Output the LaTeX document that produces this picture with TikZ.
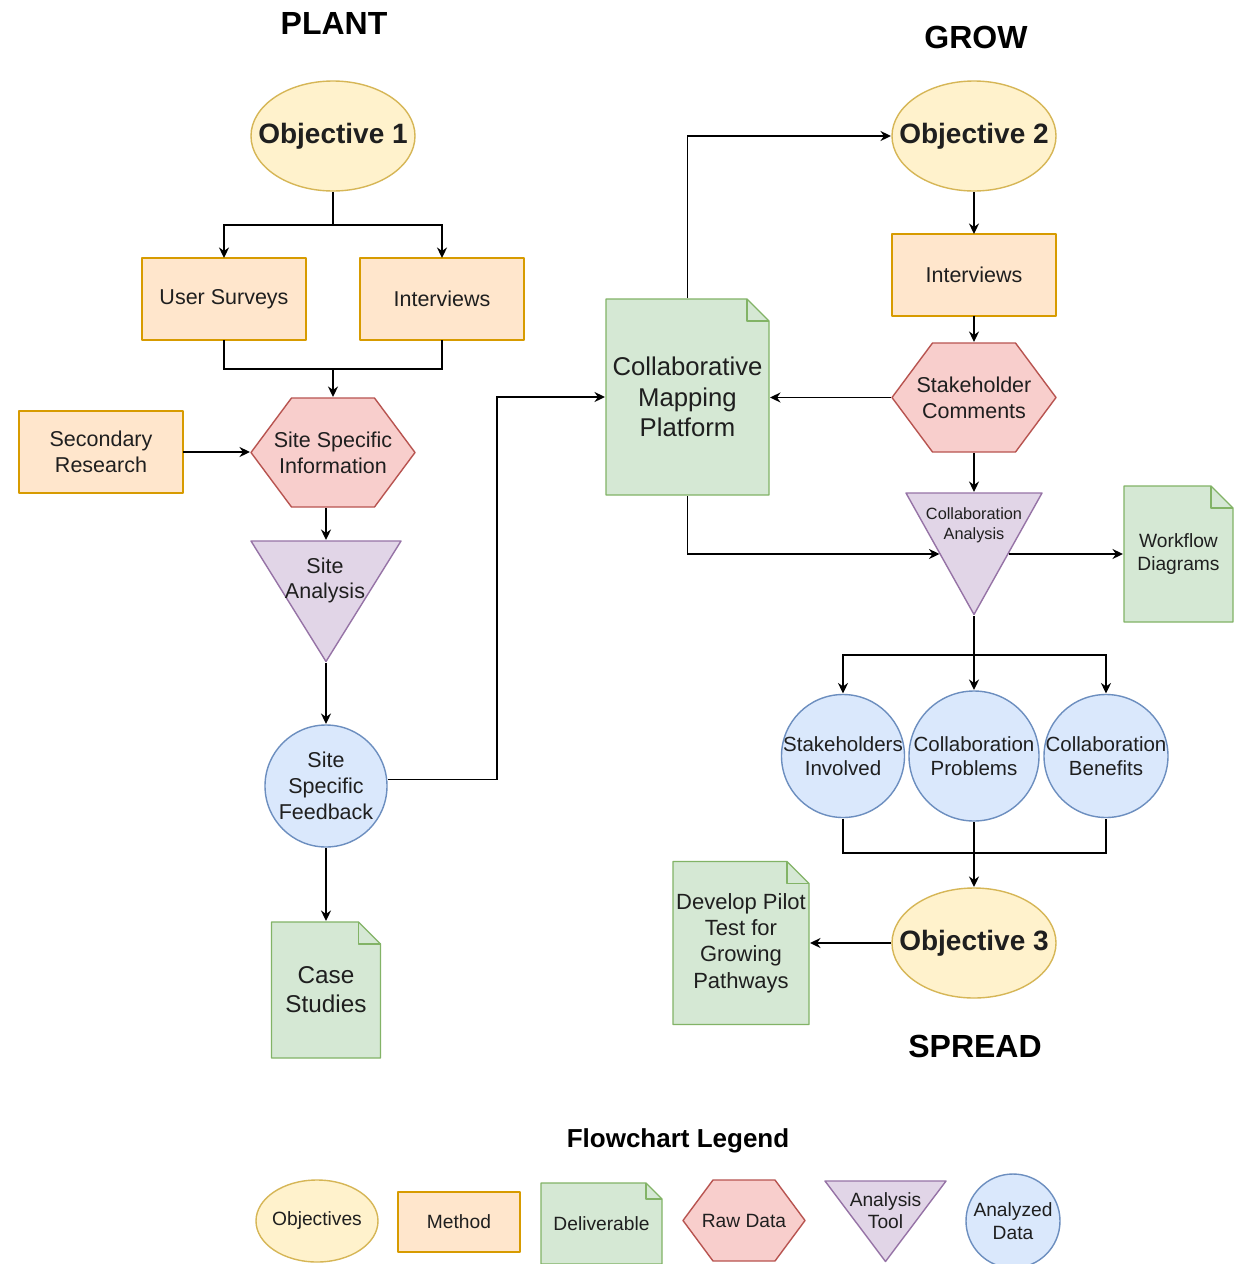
\documentclass[tikz,border=0pt]{standalone}
\usepackage{fontspec}
\setmainfont{Liberation Sans}
\usetikzlibrary{arrows.meta,calc,shapes.geometric}
\definecolor{ylF}{HTML}{FFF2CC}\definecolor{ylD}{HTML}{D6B656}
\definecolor{orF}{HTML}{FFE6CC}\definecolor{orD}{HTML}{D79B00}
\definecolor{grF}{HTML}{D5E8D4}\definecolor{grD}{HTML}{82B366}
\definecolor{rdF}{HTML}{F8CECC}\definecolor{rdD}{HTML}{B85450}
\definecolor{puF}{HTML}{E1D5E7}\definecolor{puD}{HTML}{9673A6}
\definecolor{blF}{HTML}{DAE8FC}\definecolor{blD}{HTML}{6C8EBF}
\definecolor{txtc}{HTML}{1F1F1F}
\tikzset{
  nbase/.style={align=center, inner sep=0pt, outer sep=0pt, text=txtc},
  bdr/.style={line width=1.4pt, line join=round},
  t21/.style={font=\fontsize{21.5}{25.8}\selectfont},
  t20/.style={font=\fontsize{20.5}{24.6}\selectfont},
  t19/.style={font=\fontsize{19.2}{22.5}\selectfont},
  t16/.style={font=\fontsize{16.3}{19.6}\selectfont},
  t22/.style={font=\fontsize{22}{26.2}\selectfont},
  t24/.style={font=\fontsize{24.3}{29}\selectfont},
  t26/.style={font=\fontsize{25.7}{30.3}\selectfont},
  objfont/.style={font=\fontsize{28}{33}\selectfont\bfseries},
  ttl/.style={nbase, font=\fontsize{32}{38}\selectfont\bfseries, text=black},
  ttlsmall/.style={nbase, font=\fontsize{26}{31}\selectfont\bfseries, text=black},
  methodbox/.style={nbase, t21, rectangle, draw=orD, fill=orF, bdr},
  ellnode/.style 2 args={nbase, rectangle, path picture={
    \filldraw[fill=#1, draw=#2, bdr]
      let \p1=($(path picture bounding box.north east)-(path picture bounding box.center)$) in
      (path picture bounding box.center) ellipse [x radius=\x1-1pt, y radius=\y1-1pt];}},
  objell/.style={objfont, ellnode={ylF}{ylD}},
  anell/.style={t20, ellnode={blF}{blD}},
  hexnode/.style={nbase, t21, rectangle, path picture={
    \filldraw[fill=rdF, draw=rdD, bdr]
      ($(path picture bounding box.west)+(1pt,0pt)$) --
      ($(path picture bounding box.north west)!0.25!(path picture bounding box.north east)+(0pt,-1pt)$) --
      ($(path picture bounding box.north west)!0.75!(path picture bounding box.north east)+(0pt,-1pt)$) --
      ($(path picture bounding box.east)+(-1pt,0pt)$) --
      ($(path picture bounding box.south west)!0.75!(path picture bounding box.south east)+(0pt,1pt)$) --
      ($(path picture bounding box.south west)!0.25!(path picture bounding box.south east)+(0pt,1pt)$) -- cycle;}},
  trinode/.style={nbase, rectangle, path picture={
    \filldraw[fill=puF, draw=puD, bdr]
      ($(path picture bounding box.north west)+(1pt,-1pt)$) --
      ($(path picture bounding box.north east)+(-1pt,-1pt)$) --
      ($(path picture bounding box.south)+(0pt,1.5pt)$) -- cycle;}},
  docnode/.style={nbase, rectangle, path picture={
    \filldraw[fill=grF, draw=grD, bdr]
      ($(path picture bounding box.south west)+(1pt,1pt)$) --
      ($(path picture bounding box.north west)+(1pt,-1pt)$) --
      ($(path picture bounding box.north east)+(-#1,-1pt)$) --
      ($(path picture bounding box.north east)+(-1pt,-#1)$) --
      ($(path picture bounding box.south east)+(-1pt,1pt)$) -- cycle;
    \draw[draw=grD, bdr]
      ($(path picture bounding box.north east)+(-#1,-1pt)$) --
      ($(path picture bounding box.north east)+(-#1,-#1)$) --
      ($(path picture bounding box.north east)+(-1pt,-#1)$);}},
  docnode/.default=23pt,
  conn/.style={line width=1.9pt, draw=black},
  arr/.style={conn, -{Stealth[length=10.5pt,width=10pt]}},
}
\begin{document}
\begin{tikzpicture}[x=1pt,y=-1pt]
\useasboundingbox[fill=white] (0,0) rectangle (1240,1264);

% titles
\node[ttl] (tPlant) at (334,23) {PLANT};
\node[ttl] (tGrow) at (976,37) {GROW};
\node[ttl] (tSpread) at (975,1046) {SPREAD};
\node[ttlsmall] (tLegend) at (678,1141) {Flowchart Legend};

% PLANT column
\node[objell, minimum width=166pt, minimum height=112pt] (obj1) at (333,136) {Objective 1};
\node[methodbox, minimum width=164pt, minimum height=82pt] (us) at (224,299) {User Surveys};
\node[methodbox, minimum width=164pt, minimum height=82pt] (int1) at (442,299) {Interviews};
\node[methodbox, minimum width=164pt, minimum height=82pt] (sr) at (101,452) {Secondary\\Research};
\node[hexnode, minimum width=166pt, minimum height=111pt] (ssi) at (333,452.5) {Site Specific\\Information};
\node[trinode, minimum width=152pt, minimum height=123pt] (sa) at (326,601.5) {};
\node[nbase, t21] (saT) at ($(sa.center)+(-1,-21)$) {Site\\Analysis};
\node[anell, t21, minimum width=124pt, minimum height=124pt] (ssf) at (326,786) {Site\\Specific\\Feedback};
\node[docnode, t24, minimum width=111pt, minimum height=138pt] (cs) at (326,990) {Case\\Studies};

% GROW column
\node[docnode, t26, minimum width=165pt, minimum height=198pt] (cmp) at (687.5,397) {Collaborative\\Mapping\\Platform};
\node[objell, minimum width=166pt, minimum height=112pt] (obj2) at (974,136) {Objective 2};
\node[methodbox, minimum width=164pt, minimum height=82pt] (int2) at (974,275) {Interviews};
\node[hexnode, minimum width=166pt, minimum height=111pt] (sc) at (974,397.5) {Stakeholder\\Comments};
\node[trinode, minimum width=138pt, minimum height=124pt] (ca) at (974,554) {};
\node[nbase, t16] (caT) at ($(ca.center)+(0,-28.5)$) {Collaboration\\Analysis};
\node[docnode, t19, minimum width=111pt, minimum height=138pt] (wd) at (1178.5,554) {Workflow\\Diagrams};
\node[anell, minimum width=125pt, minimum height=125pt] (si) at (843,756) {Stakeholders\\Involved};
\node[anell, minimum width=132pt, minimum height=132pt] (cp) at (974,756) {Collaboration\\Problems};
\node[anell, minimum width=126pt, minimum height=125pt] (cb) at (1106,756) {Collaboration\\Benefits};

% SPREAD
\node[objell, minimum width=166pt, minimum height=112pt] (obj3) at (974,943) {Objective 3};
\node[docnode, t22, minimum width=138pt, minimum height=165pt] (dp) at (741,943) {Develop Pilot\\Test for\\Growing\\Pathways};

% legend
\node[ellnode={ylF}{ylD}, t19, minimum width=124pt, minimum height=84pt] (lobj) at (317,1221) {Objectives};
\node[methodbox, t19, minimum width=122pt, minimum height=60pt] (lmeth) at (459,1222) {Method};
\node[docnode=17pt, t19, minimum width=123pt, minimum height=83pt] (ldel) at (601.5,1223.5) {Deliverable};
\node[hexnode, t19, minimum width=124pt, minimum height=83pt] (lraw) at (744,1220.5) {Raw Data};
\node[trinode, minimum width=123pt, minimum height=83pt] (ltool) at (885.5,1221.5) {};
\node[nbase, t19] (ltoolT) at ($(ltool.center)+(0,-11)$) {Analysis\\Tool};
\node[anell, t19, minimum width=96pt, minimum height=96pt] (lad) at (1013,1221) {Analyzed\\Data};

% connectors PLANT
\coordinate (j0) at (333,225);
\draw[conn] (obj1.south) -- (j0);
\draw[arr] (j0) -| (us.north);
\draw[arr] (j0) -| (int1.north);
\coordinate (j1) at (333,369);
\draw[conn] (us.south) |- (j1) -| (int1.south);
\draw[arr] (j1) -- (ssi.north);
\draw[arr] (sr.east) -- (sr.east -| ssi.west);
\draw[arr] (ssi.south -| sa.north) -- (sa.north);
\draw[arr] (sa.south) -- (ssf.north);
\draw[arr] (ssf.south) -- (cs.north);
\draw[arr] (ssf.6.5) -- ++(109,0) |- (cmp.west);

% connectors GROW
\draw[arr] (cmp.north) |- (obj2.west);
\draw[arr] (obj2.south) -- (int2.north);
\draw[arr] (int2.south) -- (sc.north);
\draw[arr] (sc.west) -- (sc.west -| cmp.east);
\draw[arr] (sc.south) -- (ca.north);
\draw[arr] (cmp.south) |- ($(ca.north west)!0.5!(ca.south)$);
\draw[arr] ($(ca.north east)!0.5!(ca.south)$) -- (wd.west);
\coordinate (j3) at (974,655);
\draw[conn] (ca.south) -- (j3);
\draw[arr] (j3) -| (si.north);
\draw[arr] (j3) -| (cb.north);
\draw[arr] (j3) -- (cp.north);
\coordinate (j4) at (974,853);
\draw[conn] (si.south) |- (j4) -| (cb.south);
\draw[conn] (cp.south) -- (j4);
\draw[arr] (j4) -- (obj3.north);
\draw[arr] (obj3.west) -- (dp.east);
\end{tikzpicture}
\end{document}
